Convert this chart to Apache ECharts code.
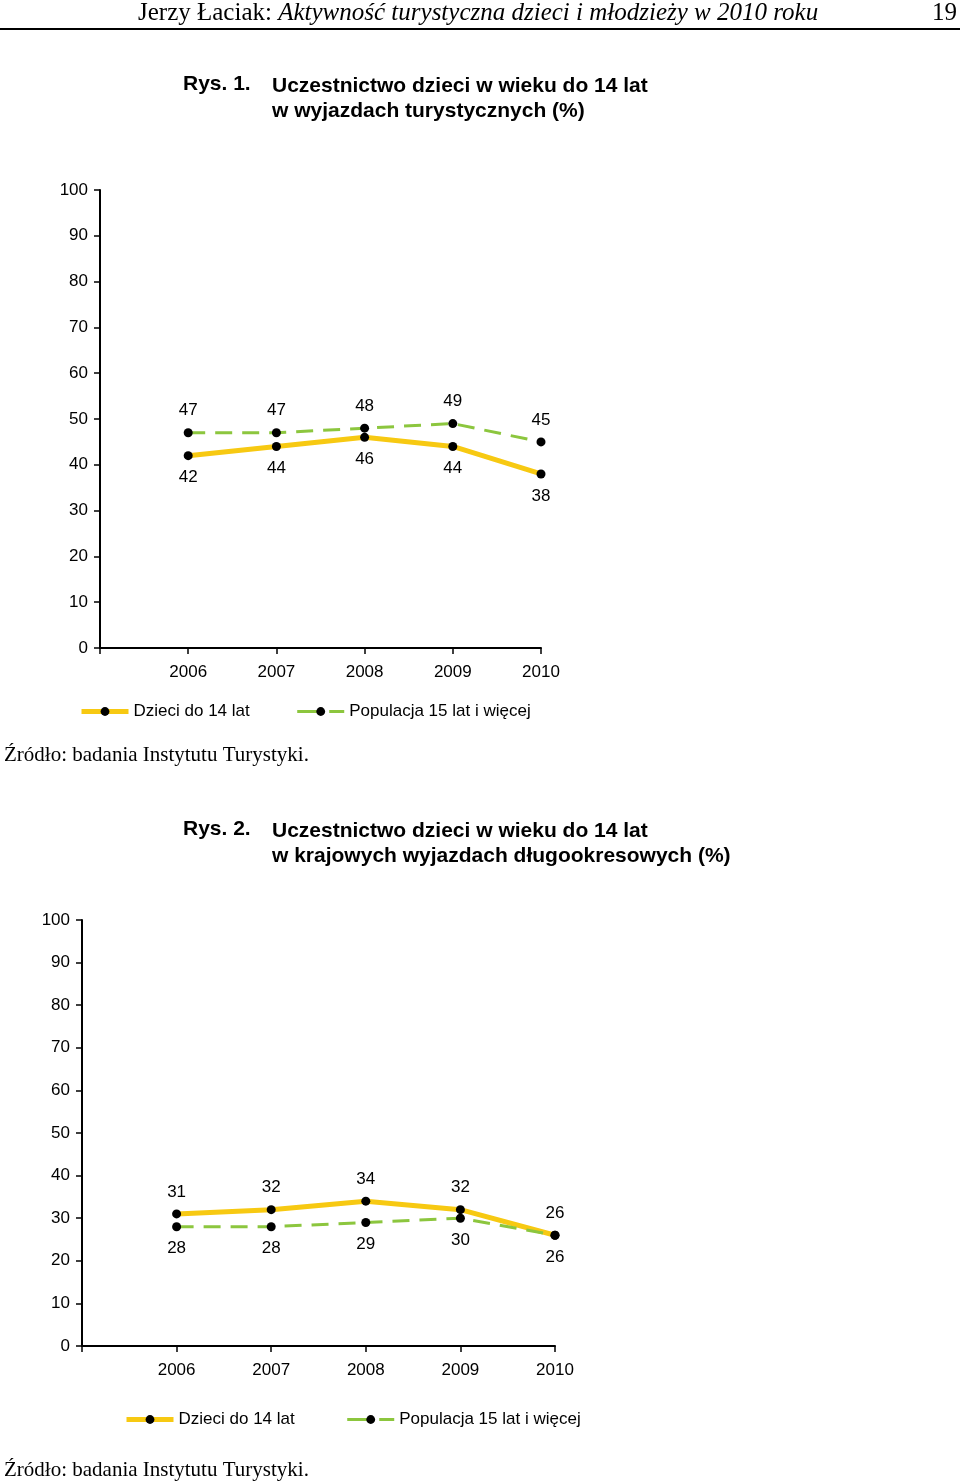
<!DOCTYPE html>
<html>
<head>
<meta charset="utf-8">
<script src="https://cdn.jsdelivr.net/npm/echarts@6/dist/echarts.min.js"></script>
<style>
  html, body { margin: 0; padding: 0; background: #fff; }
  #chart { width: 960px; height: 1484px; }
</style>
</head>
<body>
<div id="chart"></div>
<script>
// data
var years = [2006, 2007, 2008, 2009, 2010];
var yTicks = [0, 10, 20, 30, 40, 50, 60, 70, 80, 90, 100];
var seriesNames = ['Dzieci do 14 lat', 'Populacja 15 lat i więcej'];

// Rys. 1 - wyjazdy turystyczne ogółem
var kids1 = [42, 44, 46, 44, 38];
var adults1 = [47, 47, 48, 49, 45];

// Rys. 2 - krajowe wyjazdy długookresowe
var kids2 = [31, 32, 34, 32, 26];
var adults2 = [28, 28, 29, 30, 26];

var YELLOW = '#F7C912';
var GREEN = '#8CC63E';
var DASH = [17, 10];
var SANS = '"Liberation Sans", Arial, sans-serif';
var SERIF = '"Liberation Serif", "Times New Roman", serif';

function pairs(vals) {
  return years.map(function (y, i) { return [y, vals[i]]; });
}

function xAxis(idx) {
  return {
    gridIndex: idx,
    type: 'value',
    min: 2005, max: 2010, interval: 1,
    axisLine: { lineStyle: { color: '#000', width: 2 } },
    axisTick: { show: true, length: 6, lineStyle: { color: '#000', width: 1.5 } },
    splitLine: { show: false },
    axisLabel: {
      margin: 16, color: '#000', fontSize: 17, fontFamily: SANS,
      formatter: function (v) { return v === 2005 ? '' : String(v); }
    }
  };
}

function yAxis(idx) {
  return {
    gridIndex: idx,
    type: 'value',
    min: yTicks[0], max: yTicks[yTicks.length - 1], interval: 10,
    axisLine: { show: true, lineStyle: { color: '#000', width: 2 } },
    axisTick: { show: true, length: 6, lineStyle: { color: '#000', width: 1.5 } },
    splitLine: { show: false },
    axisLabel: { margin: 12, color: '#000', fontSize: 17, fontFamily: SANS }
  };
}

function lineSeries(name, vals, idx, color, width, dashed, labelPos) {
  return {
    name: name,
    type: 'line',
    xAxisIndex: idx, yAxisIndex: idx,
    data: pairs(vals),
    symbol: 'circle',
    symbolSize: 9,
    itemStyle: { color: '#000' },
    lineStyle: { color: color, width: width, type: dashed ? DASH : 'solid' },
    label: {
      show: true, position: labelPos, distance: 9,
      color: '#000', fontSize: 17, fontFamily: SANS
    },
    z: dashed ? 3 : 2
  };
}

function legend(left, top, gap) {
  return {
    left: left, top: top, padding: 0,
    itemWidth: 47, itemHeight: 11, itemGap: gap,
    data: [
      { name: seriesNames[0], itemStyle: { color: '#000' }, lineStyle: { color: YELLOW, width: 5, type: 'solid' } },
      { name: seriesNames[1], itemStyle: { color: '#000' }, lineStyle: { color: GREEN, width: 3, type: [26, 6] } }
    ],
    textStyle: { color: '#000', fontSize: 17, fontFamily: SANS },
    selectedMode: false
  };
}

var chart = echarts.init(document.getElementById('chart'));
chart.setOption({
  animation: false,
  backgroundColor: '#fff',
  grid: [
    { left: 100, right: 419, top: 190, bottom: 836 },
    { left: 82, right: 405, top: 920, bottom: 138 }
  ],
  xAxis: [xAxis(0), xAxis(1)],
  yAxis: [yAxis(0), yAxis(1)],
  legend: [legend(79, 703, 46), legend(124, 1411, 51)],
  series: [
    lineSeries(seriesNames[0], kids1, 0, YELLOW, 5, false, 'bottom'),
    lineSeries(seriesNames[1], adults1, 0, GREEN, 3, true, 'top'),
    lineSeries(seriesNames[0], kids2, 1, YELLOW, 5, false, 'top'),
    lineSeries(seriesNames[1], adults2, 1, GREEN, 3, true, 'bottom')
  ],
  graphic: [
    {
      type: 'text', left: 138, top: 1,
      style: {
        text: '{n|Jerzy Łaciak: }{i|Aktywność turystyczna dzieci i młodzieży w 2010 roku}',
        rich: {
          n: { fontFamily: SERIF, fontSize: 25, fill: '#000' },
          i: { fontFamily: SERIF, fontSize: 25, fontStyle: 'italic', fill: '#000' }
        }
      }
    },
    { type: 'text', right: 3, top: 1, style: { text: '19', font: '25px ' + SERIF, fill: '#000' } },
    { type: 'rect', shape: { x: 0, y: 28, width: 960, height: 2 }, style: { fill: '#000' } },

    { type: 'text', left: 183, top: 74, style: { text: 'Rys. 1.', font: 'bold 21px ' + SANS, fill: '#000' } },
    { type: 'text', left: 272, top: 74, style: { text: 'Uczestnictwo dzieci w wieku do 14 lat\nw wyjazdach turystycznych (%)', font: 'bold 21px ' + SANS, lineHeight: 25, fill: '#000' } },
    { type: 'text', left: 4, top: 745, style: { text: 'Źródło: badania Instytutu Turystyki.', font: '21px ' + SERIF, fill: '#000' } },

    { type: 'text', left: 183, top: 819, style: { text: 'Rys. 2.', font: 'bold 21px ' + SANS, fill: '#000' } },
    { type: 'text', left: 272, top: 819, style: { text: 'Uczestnictwo dzieci w wieku do 14 lat\nw krajowych wyjazdach długookresowych (%)', font: 'bold 21px ' + SANS, lineHeight: 25, fill: '#000' } },
    { type: 'text', left: 4, top: 1460, style: { text: 'Źródło: badania Instytutu Turystyki.', font: '21px ' + SERIF, fill: '#000' } }
  ]
});
</script>
</body>
</html>
